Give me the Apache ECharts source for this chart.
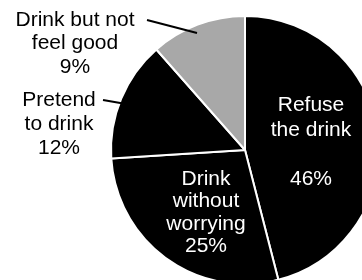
<!DOCTYPE html>
<html><head><meta charset="utf-8">
<script src="https://cdn.jsdelivr.net/npm/echarts@6/dist/echarts.min.js"></script>
<style>html,body{margin:0;padding:0;background:#fff}#c{width:362px;height:280px}</style>
</head><body><div id="c"></div>
<script>
// Data
const categories = ['Refuse\nthe drink', 'Drink\nwithout\nworrying', 'Pretend\nto drink', 'Drink but not\nfeel good'];
const percentLabels = ['46%', '25%', '12%', '9%'];
// slice sizes as drawn in the picture (percent of the full circle)
const sliceValues = [46, 28, 14.5, 11.5];

// Styles / layout (kept apart from data)
const sliceColors = ['#000000', '#000000', '#000000', '#a8a8a8'];
const labelLayouts = [
  { x: 311, y: 93, lh: 24.5, color: '#ffffff', gap: true },
  { x: 206, y: 167.5, lh: 22.5, color: '#ffffff' },
  { x: 59, y: 88.3, lh: 24, color: '#000000' },
  { x: 75, y: 8.6, lh: 23.3, color: '#000000' }
];
const leaderLines = [
  [[103, 100], [126, 104]],
  [[147, 20], [197, 33]]
];

const chart = echarts.init(document.getElementById('c'), null, { renderer: 'canvas' });
const data = categories.map((name, i) => {
  const L = labelLayouts[i];
  return {
    name: name,
    value: sliceValues[i],
    itemStyle: { color: sliceColors[i] },
    label: {
      color: L.color,
      lineHeight: L.lh,
      formatter: () => name + (L.gap ? '\n\n' : '\n') + percentLabels[i]
    }
  };
});

chart.setOption({
  animation: false,
  backgroundColor: '#ffffff',
  graphic: leaderLines.map(pts => ({
    type: 'polyline',
    z: 100,
    shape: { points: pts },
    style: { stroke: '#000000', lineWidth: 2, fill: null }
  })),
  series: [{
    type: 'pie',
    center: [245, 150],
    radius: 134,
    startAngle: 90,
    clockwise: true,
    avoidLabelOverlap: false,
    itemStyle: { borderColor: '#ffffff', borderWidth: 2 },
    emphasis: { disabled: true },
    labelLine: { show: false },
    label: {
      show: true,
      position: 'inside',
      fontFamily: '"Liberation Sans", Arial, Helvetica, sans-serif',
      fontSize: 21,
      fontWeight: 'normal',
      align: 'center'
    },
    labelLayout: function (p) {
      const L = labelLayouts[p.dataIndex];
      return { x: L.x, y: L.y, align: 'center', verticalAlign: 'top' };
    },
    data: data
  }]
});
</script>
</body></html>
